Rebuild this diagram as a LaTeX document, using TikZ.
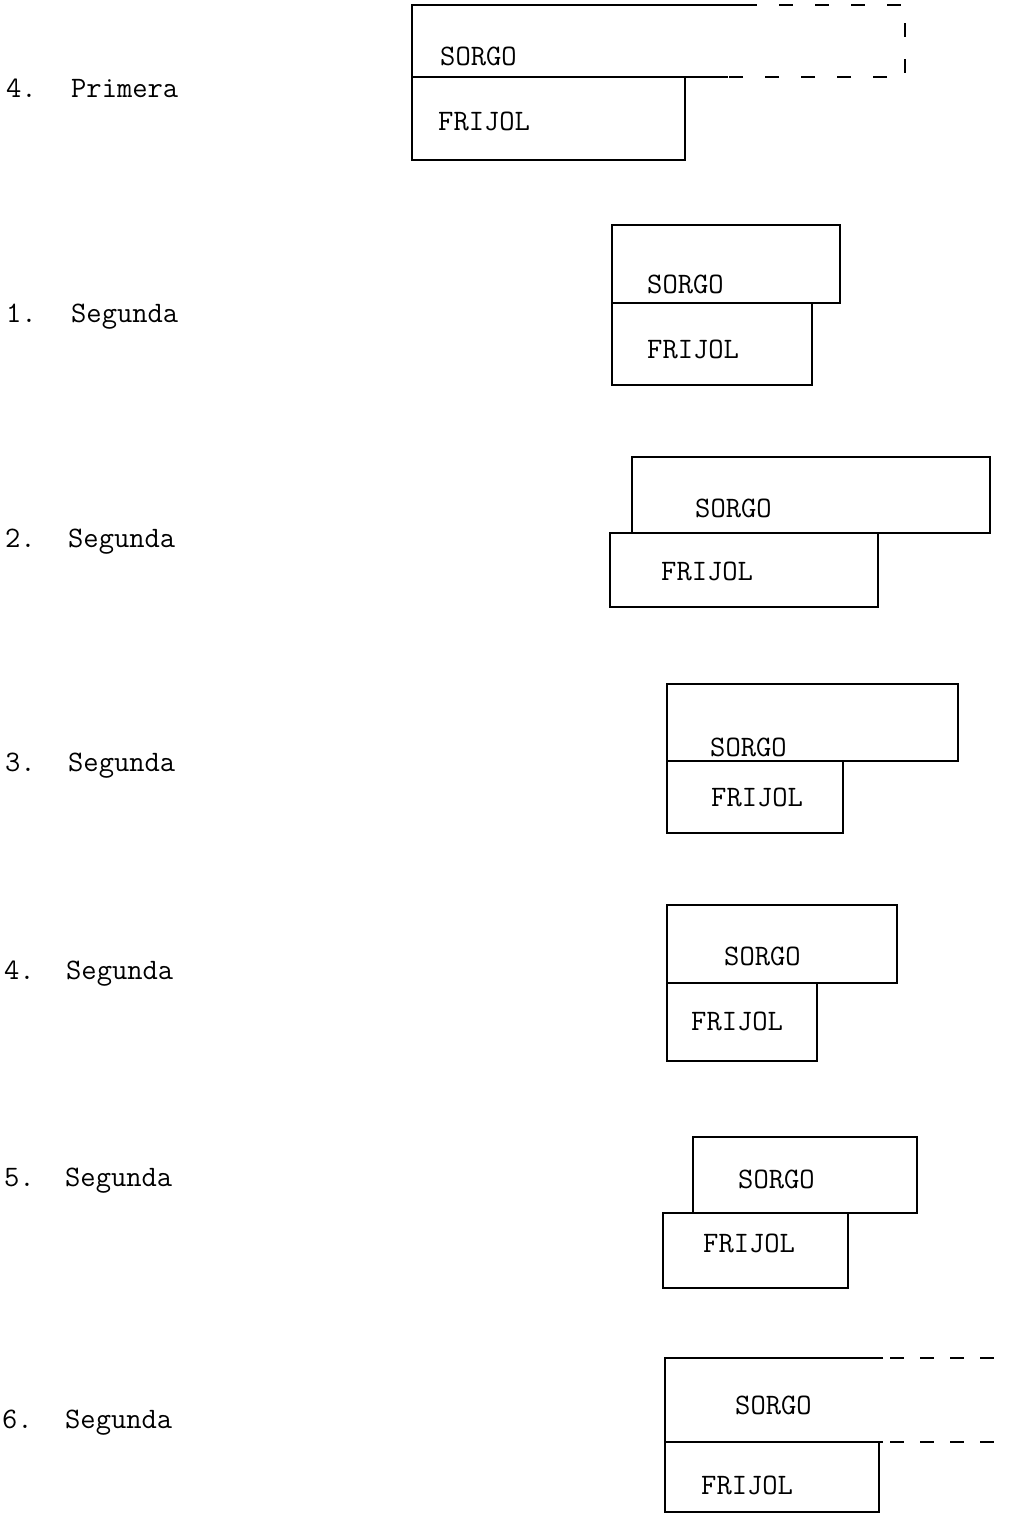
\documentclass[tikz,border=0pt]{standalone}
\usepackage{fontspec}
\begin{document}
\begin{tikzpicture}[x=1pt,y=-1pt,
  lbl/.style={anchor=base west, inner sep=0pt, font=\fontsize{29.7}{32}\selectfont\ttfamily\addfontfeatures{FakeBold=0.8}},
  plotbox/.style={line width=1.3pt, line join=miter},
  dashline/.style={line width=1.3pt, dash pattern=on 14pt off 22pt},
  dashline2/.style={line width=1.3pt, dash pattern=on 14pt off 16pt}]
\useasboundingbox[fill=white] (0,0) rectangle (1010,1515);

% ---------- row labels ----------
\node[lbl] (n1) at (6,97) {4.};   \node[lbl] (w1) at (71,97) {Primera};
\node[lbl] (n2) at (6,322) {1.};  \node[lbl] (w2) at (71,322) {Segunda};
\node[lbl] (n3) at (5,547) {2.};  \node[lbl] (w3) at (68,547) {Segunda};
\node[lbl] (n4) at (5,771) {3.};  \node[lbl] (w4) at (68,771) {Segunda};
\node[lbl] (n5) at (4,979) {4.};  \node[lbl] (w5) at (66,979) {Segunda};
\node[lbl] (n6) at (4,1186) {5.}; \node[lbl] (w6) at (65,1186) {Segunda};
\node[lbl] (n7) at (2,1428) {6.}; \node[lbl] (w7) at (65,1428) {Segunda};

% ---------- row 1 (4. Primera) ----------
\draw[plotbox] (728,77) -- (412,77) -- (412,5) -- (743,5);
\draw[dashline] (743,5) -- (905,5) -- (905,77) -- (728,77);
\draw[plotbox] (412,77) rectangle (685,160);
\node[lbl] (s1) at (440,65) {SORGO};
\node[lbl] (f1) at (438,130) {FRIJOL};

% ---------- row 2 ----------
\draw[plotbox] (612,225) rectangle (840,303);
\draw[plotbox] (612,303) rectangle (812,385);
\node[lbl] (s2) at (647,293) {SORGO};
\node[lbl] (f2) at (647,358) {FRIJOL};

% ---------- row 3 ----------
\draw[plotbox] (632,457) rectangle (990,533);
\draw[plotbox] (610,533) rectangle (878,607);
\node[lbl] (s3) at (695,517) {SORGO};
\node[lbl] (f3) at (661,580) {FRIJOL};

% ---------- row 4 ----------
\draw[plotbox] (667,684) rectangle (958,761);
\draw[plotbox] (667,761) rectangle (843,833);
\node[lbl] (s4) at (710,756) {SORGO};
\node[lbl] (f4) at (711,806) {FRIJOL};

% ---------- row 5 ----------
\draw[plotbox] (667,905) rectangle (897,983);
\draw[plotbox] (667,983) rectangle (817,1061);
\node[lbl] (s5) at (724,965) {SORGO};
\node[lbl] (f5) at (691,1030) {FRIJOL};

% ---------- row 6 ----------
\draw[plotbox] (693,1137) rectangle (917,1213);
\draw[plotbox] (663,1213) rectangle (848,1288);
\node[lbl] (s6) at (738,1188) {SORGO};
\node[lbl] (f6) at (703,1252) {FRIJOL};

% ---------- row 7 ----------
\draw[plotbox] (883,1358) -- (665,1358) -- (665,1442) -- (883,1442);
\draw[dashline2] (890,1358) -- (1010,1358);
\draw[dashline2] (890,1442) -- (1010,1442);
\draw[plotbox] (665,1442) rectangle (879,1512);
\node[lbl] (s7) at (735,1414) {SORGO};
\node[lbl] (f7) at (701,1494) {FRIJOL};
\end{tikzpicture}
\end{document}
